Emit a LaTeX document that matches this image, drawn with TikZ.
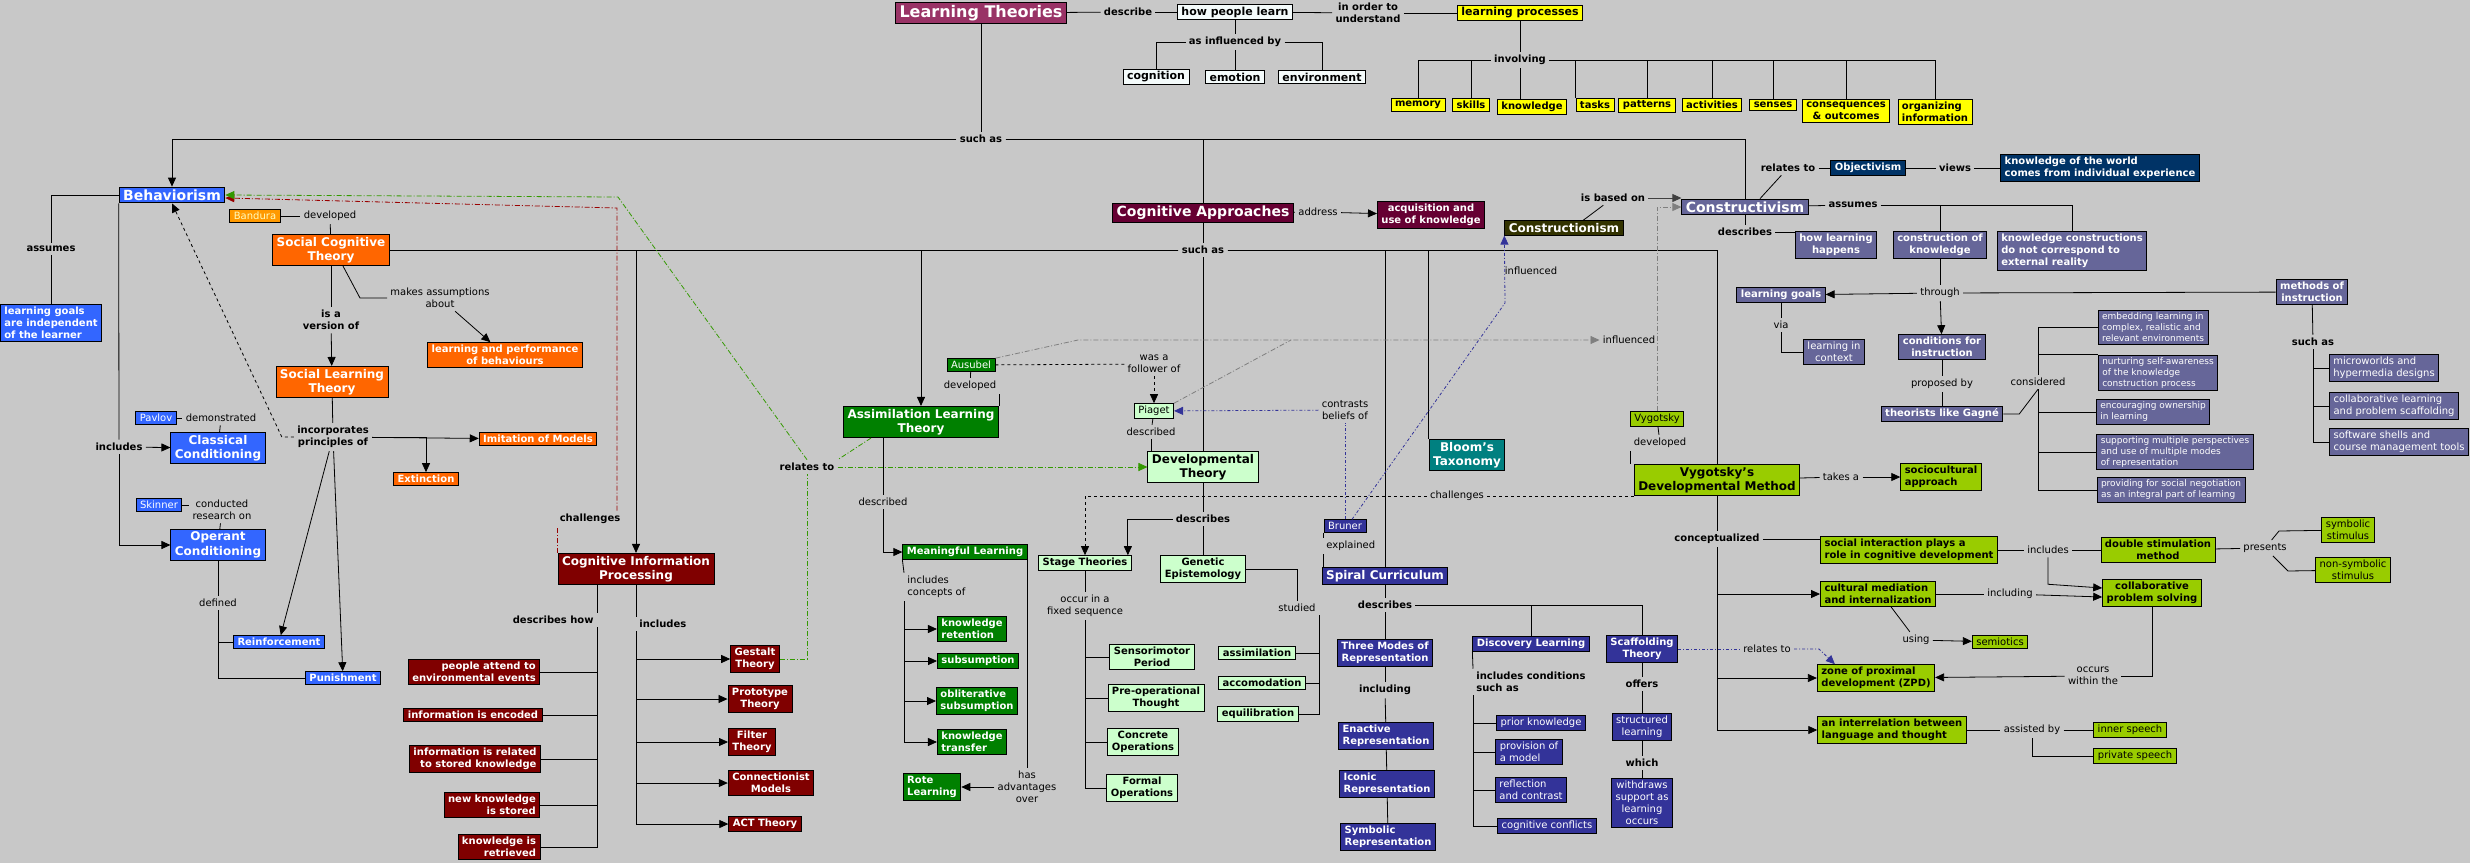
\documentclass[tikz,border=0pt]{standalone}
\usepackage{fontspec}
\setmainfont{DejaVu Sans}
\usetikzlibrary{arrows.meta,positioning}

\definecolor{bggray}{HTML}{C8C8C8}
\definecolor{ltcol}{HTML}{993366}
\definecolor{cacol}{HTML}{660033}
\definecolor{bhcol}{HTML}{3366FF}
\definecolor{sccol}{HTML}{FF6600}
\definecolor{bdcol}{HTML}{FF9900}
\definecolor{cpcol}{HTML}{800000}
\definecolor{alcol}{HTML}{008000}
\definecolor{dvcol}{HTML}{CCFFCC}
\definecolor{brcol}{HTML}{333399}
\definecolor{cscol}{HTML}{666699}
\definecolor{objcol}{HTML}{003366}
\definecolor{cncol}{HTML}{333300}
\definecolor{vgcol}{HTML}{99CC00}
\definecolor{ylcol}{HTML}{FFFF00}
\definecolor{whcol}{HTML}{F4FBFB}
\definecolor{tlcol}{HTML}{008080}
\definecolor{grdash}{HTML}{339900}
\definecolor{rddash}{HTML}{990000}
\definecolor{gydash}{HTML}{7F7F7F}

\tikzset{
  fhuge/.style={font=\fontsize{16}{18}\selectfont\bfseries},
  fbig/.style={font=\fontsize{14}{16}\selectfont\bfseries},
  fmid/.style={font=\fontsize{12}{14.5}\selectfont\bfseries},
  fmd/.style={font=\fontsize{11}{13}\selectfont\bfseries},
  fsml/.style={font=\fontsize{10}{12}\selectfont\bfseries},
  fthin/.style={font=\fontsize{10}{12}\selectfont},
  fths/.style={font=\fontsize{9}{11}\selectfont},
  cbox/.style={draw=black, line width=0.9pt, inner xsep=4pt, inner ysep=2.5pt, align=center, fsml},
  lbl/.style={inner sep=3pt, align=center, font=\fontsize{10}{12}\selectfont},
  lblb/.style={inner sep=3pt, align=center, font=\fontsize{10}{12}\selectfont\bfseries},
  ltbox/.style={cbox, fill=ltcol, text=white},
  cabox/.style={cbox, fill=cacol, text=white},
  bhbox/.style={cbox, fill=bhcol, text=white},
  scbox/.style={cbox, fill=sccol, text=white},
  bdbox/.style={cbox, fill=bdcol, text=yellow!25},
  cpbox/.style={cbox, fill=cpcol, text=white},
  albox/.style={cbox, fill=alcol, text=white},
  dvbox/.style={cbox, fill=dvcol, text=black},
  brbox/.style={cbox, fill=brcol, text=white},
  csbox/.style={cbox, fill=cscol, text=white},
  objbox/.style={cbox, fill=objcol, text=white},
  cnbox/.style={cbox, fill=cncol, text=white},
  vgbox/.style={cbox, fill=vgcol, text=black},
  ylbox/.style={cbox, fill=ylcol, text=black},
  whbox/.style={cbox, fill=whcol, text=black},
  tlbox/.style={cbox, fill=tlcol, text=white},
  arr/.style={-{Triangle[length=9pt,width=8pt]}},
  rdline/.style={draw=rddash, dash pattern=on 5pt off 2pt on 1pt off 2pt},
  gnline/.style={draw=grdash, dash pattern=on 5pt off 2pt on 1pt off 2pt},
  gyline/.style={draw=gydash, dash pattern=on 5pt off 2pt on 1pt off 2pt},
  blline/.style={draw=brcol, dash pattern=on 3pt off 2pt on 1pt off 2pt},
}

\begin{document}
\begin{tikzpicture}[x=1pt,y=-1pt,line width=0.8pt]
\useasboundingbox (0,0) rectangle (2470,863);
\fill[bggray] (0,0) rectangle (2470,863);

\node[ltbox,fhuge] (lrnth) at (981,13) {Learning Theories};
\node[lblb] (describe) at (1128,12) {describe};
\node[whbox,fmd] (howlearn) at (1235,12) {how people learn};
\node[lblb] (inorder) at (1368,13) {in order to\\understand};
\node[ylbox,fmd] (lproc) at (1520,13) {learning processes};
\node[lblb] (asinfl) at (1235,42) {as influenced by};
\node[whbox,fmd] (cogn) at (1156,77) {cognition};
\node[whbox,fmd] (emot) at (1235,77) {emotion};
\node[whbox,fmd] (envir) at (1322,77) {environment};
\node[lblb] (involv) at (1520,60) {involving};
\node[ylbox] (memory) at (1418,105) {memory};
\node[ylbox] (skills) at (1471,105) {skills};
\node[ylbox] (knowl) at (1532,107) {knowledge};
\node[ylbox] (tasks) at (1595,105) {tasks};
\node[ylbox] (pattern) at (1647,105) {patterns};
\node[ylbox] (activ) at (1712,105) {activities};
\node[ylbox] (senses) at (1773,105) {senses};
\node[ylbox] (conseq) at (1846,111) {consequences\\\& outcomes};
\node[ylbox,align=left] (organiz) at (1935,112) {organizing\\information};

\node[lblb] (suchas1) at (981,139) {such as};
\node[bhbox,fbig] (behav) at (172,195) {Behaviorism};
\node[lblb] (assume1) at (51,249) {assumes};
\node[bhbox,align=left] (lgoal) at (51,323) {learning goals\\are independent\\of the learner};
\node[lblb] (incl1) at (119,447) {includes};
\node[bdbox,fthin] (bandura) at (255,216) {Bandura};
\node[lbl] (devl1) at (330,216) {developed};
\node[scbox,fmid] (socog) at (331,250) {Social Cognitive\\Theory};
\node[lblb] (isaver) at (331,320) {is a\\version of};
\node[lbl] (makes) at (440,298) {makes assumptions\\about};
\node[scbox] (lperf) at (505,355) {learning and performance\\of behaviours};
\node[scbox,fmid] (soclt) at (332,382) {Social Learning\\Theory};
\node[lblb] (incprin) at (333,437) {incorporates\\principles of};
\node[scbox] (imit) at (538,439) {Imitation of Models};
\node[scbox] (extinct) at (426,479) {Extinction};
\node[bhbox,fthin] (pavlov) at (156,418) {Pavlov};
\node[lbl] (demon) at (221,418) {demonstrated};
\node[bhbox,fmid] (clcond) at (218,448) {Classical\\Conditioning};
\node[bhbox,fthin] (skinner) at (159,505) {Skinner};
\node[lbl] (conduct) at (222,510) {conducted\\research on};
\node[bhbox,fmid] (opcond) at (218,545) {Operant\\Conditioning};
\node[lbl] (defined) at (218,603) {defined};
\node[bhbox] (reinf) at (279,642) {Reinforcement};
\node[bhbox] (punish) at (343,678) {Punishment};

\node[cabox,fbig] (cogapp) at (1203,213) {Cognitive Approaches};
\node[lbl] (address) at (1318,212) {address};
\node[cabox] (acquis) at (1431,215) {acquisition and\\use of knowledge};
\node[lblb] (suchas2) at (1203,250) {such as};

\node[cpbox,fmid] (cip) at (636,569) {Cognitive Information\\Processing};
\node[lblb] (chal1) at (590,519) {challenges};
\node[lblb,anchor=east] (deschow) at (597,620) {describes how};
\node[lblb,anchor=west] (incl2) at (636,624) {includes};
\node[cpbox,align=right] (pattend) at (474,672) {people attend to\\environmental events};
\node[cpbox] (encoded) at (473,715) {information is encoded};
\node[cpbox,align=right] (relstor) at (475,759) {information is related\\to stored knowledge};
\node[cpbox,align=right] (newstor) at (492,805) {new knowledge\\is stored};
\node[cpbox,align=right] (retriev) at (499,847) {knowledge is\\retrieved};
\node[cpbox] (gestalt) at (755,659) {Gestalt\\Theory};
\node[cpbox] (proto) at (760,699) {Prototype\\Theory};
\node[cpbox] (filter) at (752,742) {Filter\\Theory};
\node[cpbox] (connect) at (771,783) {Connectionist\\Models};
\node[cpbox] (actth) at (765,824) {ACT Theory};

\node[albox,fmid] (alt) at (921,422) {Assimilation Learning\\Theory};
\node[albox,fthin] (ausubel) at (971,365) {Ausubel};
\node[lbl] (devl2) at (970,386) {developed};
\node[lbl] (wasfol) at (1154,364) {was a\\follower of};
\node[dvbox,fthin] (piaget) at (1154,411) {Piaget};
\node[lbl] (descr3) at (1151,432) {described};
\node[lblb] (relto2) at (807,467) {relates to};
\node[lbl] (descr2) at (883,502) {described};
\node[albox] (meanl) at (965,552) {Meaningful Learning};
\node[lbl,anchor=west,align=left] (inclcon) at (904,587) {includes\\concepts of};
\node[albox,align=left] (kret) at (972,629) {knowledge\\retention};
\node[albox] (subsum) at (978,661) {subsumption};
\node[albox,align=left] (oblit) at (977,701) {obliterative\\subsumption};
\node[albox,align=left] (ktrans) at (972,742) {knowledge\\transfer};
\node[albox,align=left] (rote) at (932,787) {Rote\\Learning};
\node[lbl] (hasadv) at (1027,787) {has\\advantages\\over};

\node[dvbox,fmid] (devth) at (1203,467) {Developmental\\Theory};
\node[lblb] (descr4) at (1203,519) {describes};
\node[lbl] (chal2) at (1457,496) {challenges};
\node[dvbox] (stage) at (1085,563) {Stage Theories};
\node[dvbox] (genep) at (1203,569) {Genetic\\Epistemology};
\node[lbl] (occur) at (1085,606) {occur in a\\fixed sequence};
\node[dvbox] (sensor) at (1152,657) {Sensorimotor\\Period};
\node[dvbox] (preop) at (1156,698) {Pre-operational\\Thought};
\node[dvbox] (concr) at (1143,742) {Concrete\\Operations};
\node[dvbox] (formal) at (1142,788) {Formal\\Operations};
\node[lbl] (studied) at (1297,608) {studied};
\node[dvbox] (assim) at (1257,653) {assimilation};
\node[dvbox] (accom) at (1262,683) {accomodation};
\node[dvbox] (equil) at (1258,714) {equilibration};

\node[brbox,fthin] (bruner) at (1345,526) {Bruner};
\node[lbl] (contr) at (1345,410) {contrasts\\beliefs of};
\node[lbl,anchor=west] (explain) at (1323,546) {explained};
\node[brbox,fmid] (spiral) at (1385,576) {Spiral Curriculum};
\node[lbl] (infl2) at (1531,271) {influenced};
\node[tlbox,fmid] (bloom) at (1467,455) {Bloom's\\Taxonomy};
\node[lblb] (descr5) at (1385,605) {describes};
\node[brbox] (threem) at (1385,653) {Three Modes of\\Representation};
\node[lblb] (incl3) at (1385,690) {including};
\node[brbox,align=left] (enact) at (1386,736) {Enactive\\Representation};
\node[brbox,align=left] (iconic) at (1387,784) {Iconic\\Representation};
\node[brbox,align=left] (symbol) at (1388,837) {Symbolic\\Representation};
\node[brbox] (discov) at (1531,644) {Discovery Learning};
\node[lblb,anchor=west,align=left] (inclcnd) at (1473,682) {includes conditions\\such as};
\node[brbox,fthin] (prior) at (1541,723) {prior knowledge};
\node[brbox,fthin,align=left] (provis) at (1529,752) {provision of\\a model};
\node[brbox,fthin,align=left] (reflect) at (1531,790) {reflection\\and contrast};
\node[brbox,fthin] (cogconf) at (1547,826) {cognitive conflicts};
\node[brbox] (scaff) at (1642,649) {Scaffolding\\Theory};
\node[lblb] (offers) at (1642,684) {offers};
\node[brbox,fthin] (struct) at (1642,727) {structured\\learning};
\node[lblb] (which) at (1642,763) {which};
\node[brbox,fthin] (withdr) at (1642,803) {withdraws\\support as\\learning\\occurs};
\node[lbl] (relto3) at (1767,649) {relates to};

\node[cnbox,fmid] (cionism) at (1564,228) {Constructionism};
\node[lblb] (isbased) at (1613,198) {is based on};
\node[csbox,fbig] (constr) at (1745,207) {Constructivism};
\node[lblb] (relto1) at (1788,168) {relates to};
\node[objbox] (objectiv) at (1868,168) {Objectivism};
\node[lblb] (views) at (1955,168) {views};
\node[objbox,align=left] (knworld) at (2100,168) {knowledge of the world\\comes from individual experience};
\node[lblb] (assume2) at (1853,205) {assumes};
\node[lblb] (descr6) at (1745,232) {describes};
\node[csbox] (howhap) at (1836,245) {how learning\\happens};
\node[csbox] (constk) at (1940,245) {construction of\\knowledge};
\node[csbox,align=left] (kconstr) at (2072,251) {knowledge constructions\\do not correspond to\\external reality};
\node[lbl] (through) at (1940,293) {through};
\node[csbox] (lgoals) at (1781,295) {learning goals};
\node[lbl] (via) at (1781,325) {via};
\node[csbox,fthin] (lctx) at (1834,352) {learning in\\context};
\node[csbox] (condins) at (1942,347) {conditions for\\instruction};
\node[lbl] (propby) at (1942,384) {proposed by};
\node[csbox] (gagne) at (1942,414) {theorists like Gagné};
\node[lbl] (consid) at (2038,382) {considered};
\node[csbox,fths,align=left] (embed) at (2153,327) {embedding learning in\\complex, realistic and\\relevant environments};
\node[csbox,fths,align=left] (nurt) at (2158,373) {nurturing self-awareness\\of the knowledge\\construction process};
\node[csbox,fths,align=left] (encour) at (2153,412) {encouraging ownership\\in learning};
\node[csbox,fths,align=left] (suppmp) at (2175,452) {supporting multiple perspectives\\and use of multiple modes\\of representation};
\node[csbox,fths,align=left] (provsn) at (2171,490) {providing for social negotiation\\as an integral part of learning};
\node[csbox] (methins) at (2312,292) {methods of\\instruction};
\node[lblb] (suchas3) at (2313,342) {such as};
\node[csbox,fthin,align=left] (microw) at (2384,368) {microworlds and\\hypermedia designs};
\node[csbox,fthin,align=left] (collabl) at (2394,406) {collaborative learning\\and problem scaffolding};
\node[csbox,fthin,align=left] (softw) at (2399,442) {software shells and\\course management tools};

\node[vgbox,fthin] (vygot) at (1657,419) {Vygotsky};
\node[lbl] (devl3) at (1660,443) {developed};
\node[lbl] (infl1) at (1629,340) {influenced};
\node[vgbox,fmid] (vdm) at (1717,480) {Vygotsky's\\Developmental Method};
\node[lbl] (takes) at (1841,477) {takes a};
\node[vgbox,align=left] (socult) at (1941,477) {sociocultural\\approach};
\node[lblb] (concept) at (1717,539) {conceptualized};
\node[vgbox,align=left] (socint) at (1909,550) {social interaction plays a\\role in cognitive development};
\node[lbl] (incl4) at (2048,550) {includes};
\node[vgbox] (dstim) at (2158,550) {double stimulation\\method};
\node[lbl] (presents) at (2265,548) {presents};
\node[vgbox,fthin] (symb) at (2348,530) {symbolic\\stimulus};
\node[vgbox,fthin] (nonsymb) at (2353,570) {non-symbolic\\stimulus};
\node[vgbox,align=left] (cultmed) at (1878,594) {cultural mediation\\and internalization};
\node[lbl] (incl5) at (2010,594) {including};
\node[vgbox] (collab) at (2152,593) {collaborative\\problem solving};
\node[lbl] (using) at (1916,640) {using};
\node[vgbox,fthin] (semio) at (2000,642) {semiotics};
\node[vgbox,align=left] (zpd) at (1876,678) {zone of proximal\\development (ZPD)};
\node[lbl] (occurs) at (2093,676) {occurs\\within the};
\node[vgbox,align=left] (interrel) at (1892,730) {an interrelation between\\language and thought};
\node[lbl] (assist) at (2032,730) {assisted by};
\node[vgbox,fthin] (inner) at (2130,730) {inner speech};
\node[vgbox,fthin] (private) at (2135,756) {private speech};

\draw (lrnth) -- (describe);
\draw (describe) -- (howlearn);
\draw (howlearn) -- (inorder);
\draw (inorder) -- (lproc);
\draw (howlearn) -- (asinfl);
\draw (asinfl) -| (cogn);
\draw (asinfl) -- (emot);
\draw (asinfl) -| (envir);
\draw (lproc) -- (involv);
\draw (involv) -| (memory);
\draw (involv) -| (skills);
\draw (involv) -- (involv |- knowl.north);
\draw (involv) -| (tasks.north west);
\draw (involv) -| (pattern);
\draw (involv) -| (activ);
\draw (involv) -| (senses);
\draw (involv) -| (conseq);
\draw (involv) -| (organiz);

\draw (lrnth) -- (suchas1);
\draw[arr] (suchas1) -| (behav);
\draw (suchas1) -| (cogapp);
\draw (suchas1) -| (constr);

\draw (behav) -| (assume1);
\draw (assume1) -- (lgoal);
\draw (behav.south west) -- (incl1);
\draw[arr] (incl1) -- (clcond);
\draw[arr] (incl1) |- (opcond);
\draw (bandura) -- (devl1);
\draw (devl1) -- (socog);
\draw (socog) -- (isaver);
\draw[arr] (isaver) -- (soclt);
\draw ([xshift=12pt]socog.south) -- (360,298) -- (makes.west);
\draw[arr] (makes) -- (lperf);
\draw (soclt) -- (incprin);
\draw[arr] (incprin) -- (imit);
\draw[arr] (incprin) -| (extinct);
\draw[arr] (incprin) -- (reinf);
\draw[arr] (incprin) -- (punish);
\draw[dashed,arr] (incprin.west) -- ++(-12,0) -- (behav.south);
\draw (pavlov) -- (demon);
\draw (demon) -- (clcond);
\draw (skinner.east) -- (skinner.east -| conduct.west);
\draw (conduct) -- (opcond);
\draw (opcond) -- (defined);
\draw (defined) |- (reinf);
\draw (defined) |- (punish);

\draw (cogapp) -- (address);
\draw[arr] (address) -- (acquis);
\draw (cogapp) -- (suchas2);
\draw (suchas2) -- (socog);
\draw[arr] (suchas2) -| (cip);
\draw[arr] (suchas2) -| (alt);
\draw (suchas2) -- (devth);
\draw (suchas2) -| (spiral);
\draw (suchas2) -| (bloom.north west);
\draw (suchas2) -| (vdm);

\coordinate (redbend) at (617,208);
\coordinate (grnbend) at (618,197);
\draw[rdline] (cip.north west) -- (cip.north west |- chal1.south);
\draw[rdline,arr] (chal1.north -| redbend) -- (redbend) -- ([yshift=-3pt]behav.east);
\draw[gnline,arr] (relto2.north) -- (grnbend) -- (behav.east);
\draw[gnline,arr] (relto2) -- (devth);
\draw[gnline] ([xshift=-50pt]alt.south) -- (relto2.north east);
\draw[gnline] (gestalt) -| (relto2);
\draw (cip.south -| deschow.north east) -- (deschow.north east);
\draw (deschow.south east) |- (pattend);
\draw (deschow.south east) |- (encoded);
\draw (deschow.south east) |- (relstor);
\draw (deschow.south east) |- (newstor);
\draw (deschow.south east) |- (retriev);
\draw (cip.south -| incl2.north west) -- (incl2.north west);
\draw[arr] (incl2.south west) |- (gestalt);
\draw[arr] (incl2.south west) |- (proto);
\draw[arr] (incl2.south west) |- (filter);
\draw[arr] (incl2.south west) |- (connect);
\draw[arr] (incl2.south west) |- (actth);

\draw (ausubel) -- (devl2);
\draw (devl2.south east) -- (devl2.south east |- alt.north);
\draw[dashed] (ausubel) -- (wasfol);
\draw[dashed,arr] (wasfol) -- (piaget);
\draw (piaget) -- (descr3);
\draw (descr3) -- (descr3 |- devth.north);
\draw (alt.south -| descr2) -- (descr2);
\draw[arr] (descr2) |- (meanl);
\draw (meanl.south west) -- (inclcon.north west);
\draw[arr] (inclcon.south west) |- (kret);
\draw[arr] (inclcon.south west) |- (subsum);
\draw[arr] (inclcon.south west) |- (oblit);
\draw[arr] (inclcon.south west) |- (ktrans);
\draw (meanl.south east) -- (meanl.south east |- hasadv.north);
\draw[arr] (hasadv) -- (rote);

\draw[gyline,arr] (ausubel.north east) -- (1078,340) -- (infl1.west);
\draw[gyline] (piaget.north east) -- (1291,340);
\draw[gyline,arr] (vygot.north) |- (constr.west);
\draw[blline] (bruner) -- (contr);
\draw[blline,arr] (contr) -- (piaget);
\coordinate (blbend) at (1505,303);
\draw[blline,arr] ([xshift=7pt]bruner.north) -- (blbend) -- (cionism.south west);
\draw (bruner.south west) -- (bruner.south west |- explain.north);
\draw (explain.south west) -- (explain.south west |- spiral.north);

\draw (devth) -- (descr4);
\draw (descr4) -- (genep);
\draw[arr] (descr4) -| ([xshift=-4pt]stage.north east);
\draw[dashed] (chal2) -- (chal2 -| vdm.west);
\draw[dashed,arr] (chal2) -| (stage);
\draw (stage) -- (occur);
\draw (occur) |- (sensor);
\draw (occur) |- (preop);
\draw (occur) |- (concr);
\draw (occur) |- (formal);
\draw (genep) -| (studied);
\draw (studied.south east) |- (assim);
\draw (studied.south east) |- (accom);
\draw (studied.south east) |- (equil);

\draw (spiral) -- (descr5);
\draw (descr5) -- (threem);
\draw (descr5) -| (discov);
\draw (descr5) -| (scaff);
\draw (threem) -- (incl3);
\draw (incl3) -- (enact);
\draw (enact) -- (iconic);
\draw (iconic) -- (symbol);
\draw (discov.south west) -- (inclcnd.north west);
\draw (inclcnd.south west) |- (prior);
\draw (inclcnd.south west) |- (provis);
\draw (inclcnd.south west) |- (reflect);
\draw (inclcnd.south west) |- (cogconf);
\draw (scaff) -- (offers);
\draw (offers) -- (struct);
\draw (struct) -- (which);
\draw (which) -- (withdr);
\draw[blline] (scaff) -- (relto3);
\draw[blline,arr] (relto3) -- (1819,649) -- ([xshift=18pt]zpd.north west);

\draw ([xshift=19pt]cionism.north) -- (isbased);
\draw[arr,draw=black!75] (isbased) -- (isbased -| constr.west);
\draw ([xshift=15pt]constr.north) -- (relto1);
\draw (relto1) -- (objectiv);
\draw (objectiv) -- (views);
\draw (views) -- (knworld);
\draw (constr) -- (assume2);
\draw (assume2) -| (constk);
\draw (assume2) -| (kconstr);
\draw (constr) -- (descr6);
\draw (descr6) -- (descr6 -| howhap.west);
\draw (constk) -- (through);
\draw[arr] (through) -- (lgoals);
\draw[arr] (through) -- (condins);
\draw (through) -- (methins);
\draw (lgoals) -- (via);
\draw (via) |- (lctx);
\draw (condins) -- (propby);
\draw (propby) -- (gagne);
\draw (gagne.east) -- ++(16,0) -- (consid.south);
\draw (consid.north) |- (embed);
\draw (consid.north) |- (nurt.north west);
\draw (consid.south) |- (encour);
\draw (consid.south) |- (suppmp);
\draw (consid.south) |- (provsn);
\draw (methins) -- (suchas3);
\draw (suchas3) |- (microw);
\draw (suchas3) |- (collabl);
\draw (suchas3) |- (softw);

\draw (vygot) -- (devl3);
\draw (devl3.south west) -- (devl3.south west |- vdm.north);
\draw (vdm) -- (takes);
\draw[arr] (takes) -- (socult);
\draw (vdm) -- (concept);
\draw (concept.east) -- (concept.east -| socint.west);
\draw[arr] (concept) |- (cultmed);
\draw[arr] (concept) |- (zpd);
\draw[arr] (concept) |- (interrel);
\draw (socint) -- (incl4);
\draw (incl4) -- (dstim);
\draw[arr] (incl4.south) -- ++(0,27) -- ([yshift=5pt]collab.west);
\draw (dstim) -- (presents);
\draw (presents) -- (2279,531) -- (symb);
\draw (presents) -- (2288,571) -- (nonsymb);
\draw (cultmed) -- (incl5);
\draw[arr] (incl5) -- ([yshift=-4pt]collab.west);
\draw ([xshift=13pt]cultmed.south) -- (using);
\draw[arr] (using) -- (semio);
\draw (collab) |- (occurs);
\draw[arr] (occurs) -- (zpd);
\draw (interrel) -- (assist);
\draw (assist) -- (inner);
\draw (assist) |- (private);

\end{tikzpicture}
\end{document}
